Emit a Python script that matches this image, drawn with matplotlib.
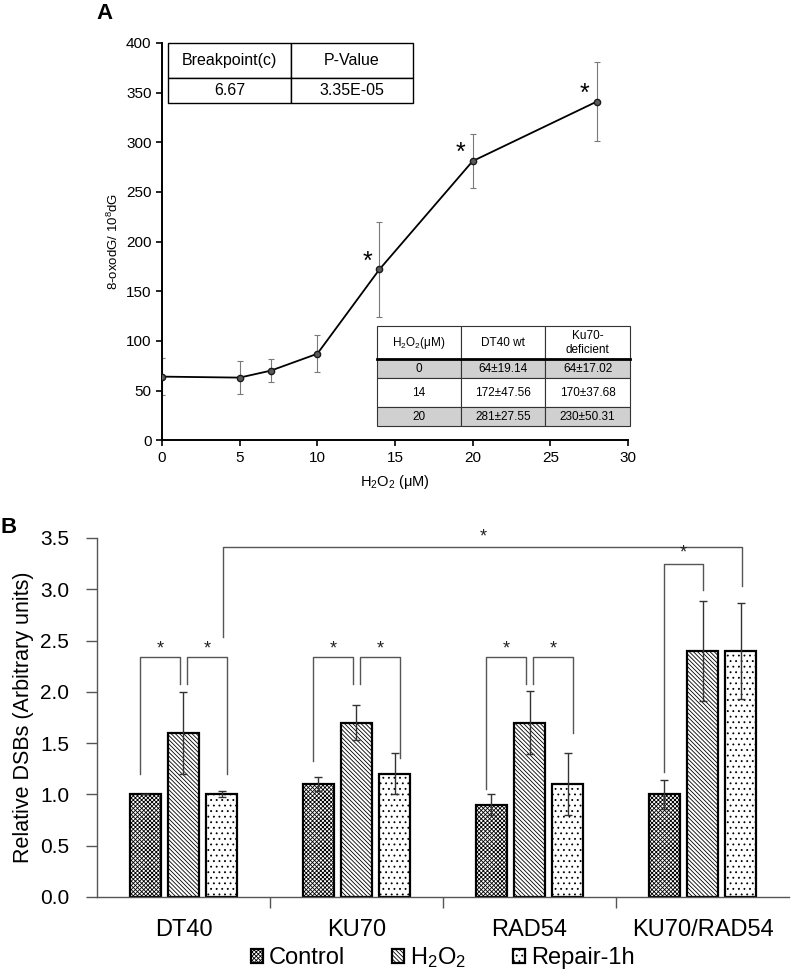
import numpy as np
import matplotlib
matplotlib.use('Agg')
import matplotlib.pyplot as plt
from matplotlib.lines import Line2D

plt.rcParams.update({
    'font.family': ['Liberation Sans', 'DejaVu Sans'],
    'mathtext.default': 'regular',
    'hatch.linewidth': 0.6,
})

# ── Panel A data ──────────────────────────────────────────────────────
doses = [0, 5, 7, 10, 14, 20, 28]
oxo = [64, 63, 70, 87, 172, 281, 341]
oxo_err = [19, 16.5, 11.5, 18.5, 47.5, 27.5, 40]
star_doses = [14, 20, 28]

breakpoint_c = '6.67'
p_value = '3.35E-05'

table_dose = [0, 14, 20]
dt40_mean = [64, 172, 281]
dt40_sd = [19.14, 47.56, 27.55]
ku70_mean = [64, 170, 230]
ku70_sd = [17.02, 37.68, 50.31]

# ── Panel B data ──────────────────────────────────────────────────────
groups = ['DT40', 'KU70', 'RAD54', 'KU70/RAD54']
control = [1.0, 1.1, 0.9, 1.0]
control_err = [0.0, 0.07, 0.1, 0.14]
h2o2 = [1.6, 1.7, 1.7, 2.4]
h2o2_err = [0.4, 0.17, 0.31, 0.49]
repair = [1.0, 1.2, 1.1, 2.4]
repair_err = [0.03, 0.2, 0.3, 0.47]
series_names = ['Control', 'H$_2$O$_2$', 'Repair-1h']

fig = plt.figure(figsize=(7.91, 9.76), dpi=100)

# ── Panel A ───────────────────────────────────────────────────────────
axA = fig.add_axes([0.2048, 0.549, 0.5891, 0.407])
axA.errorbar(doses, oxo, yerr=oxo_err, fmt='none', ecolor='#7a7a7a',
             elinewidth=0.8, capsize=2.5, capthick=0.8, zorder=2)
axA.plot(doses, oxo, color='black', lw=1.3, marker='o', ms=4.5,
         mfc='#5a5a5a', mec='#1a1a1a', mew=1, zorder=3)
for d in star_doses:
    i = doses.index(d)
    axA.text(d - 0.8, oxo[i] + 8, '*', fontsize=18, ha='center', va='center')

axA.set_xlim(0, 30)
axA.set_ylim(0, 400)
axA.set_xticks(range(0, 31, 5))
axA.set_yticks(range(0, 401, 50))
for s in ['top', 'right']:
    axA.spines[s].set_visible(False)
for s in ['left', 'bottom']:
    axA.spines[s].set_linewidth(1.4)
axA.tick_params(direction='out', length=4, width=1.2, labelsize=11)
axA.set_xlabel('H$_2$O$_2$ (μM)', fontsize=10.5, labelpad=6)
axA.set_ylabel('8-oxodG/ 10$^8$dG', fontsize=9.5)

# breakpoint table
t1 = axA.table(cellText=[['Breakpoint(c)', 'P-Value'], [breakpoint_c, p_value]],
               cellLoc='center', bbox=[0.013, 0.849, 0.526, 0.151])
t1.auto_set_font_size(False)
t1.set_fontsize(11.5)
for (r, c), cell in t1.get_celld().items():
    cell.set_height(35 if r == 0 else 25)
    cell.set_linewidth(1.0)

# inset table
rows = [['H$_2$O$_2$(μM)', 'DT40 wt', 'Ku70-\ndeficient']]
for d, m1, s1, m2, s2 in zip(table_dose, dt40_mean, dt40_sd, ku70_mean, ku70_sd):
    rows.append([str(d), f'{m1}±{s1:.2f}', f'{m2}±{s2:.2f}'])
row_h = [33, 19, 29, 19]
t2 = axA.table(cellText=rows, cellLoc='center', bbox=[0.461, 0.035, 0.543, 0.252])
t2.auto_set_font_size(False)
t2.set_fontsize(8.5)
for (r, c), cell in t2.get_celld().items():
    cell.set_height(row_h[r])
    cell.set_linewidth(0.8)
    cell.set_edgecolor('#333333')
    if r in (1, 3):
        cell.set_facecolor('#d0d0d0')
yline = 0.035 + 0.252 * (1 - row_h[0] / sum(row_h))
axA.add_line(Line2D([0.461, 1.004], [yline, yline], transform=axA.transAxes,
                    color='black', lw=2, clip_on=False, zorder=10))

fig.text(0.122, 0.997, 'A', fontsize=16, weight='bold', va='top')

# ── Panel B ───────────────────────────────────────────────────────────
axB = fig.add_axes([0.1226, 0.081, 0.8749, 0.3678])
x = np.arange(len(groups))
offsets = [-0.22, 0.0, 0.22]
width = 0.18
hatches = ['x' * 8, '\\' * 8, '...']
for off, vals, errs, name, h in zip(offsets, [control, h2o2, repair],
                                    [control_err, h2o2_err, repair_err],
                                    series_names, hatches):
    axB.bar(x + off, vals, width, yerr=errs, color='white', edgecolor='black',
            linewidth=1.6, hatch=h, label=name,
            error_kw=dict(ecolor='#333333', elinewidth=1, capsize=3, capthick=1))


def bracket(x1, x2, y1, ytop, y2, star_dy=0.08):
    axB.plot([x1, x1, x2, x2], [y1, ytop, ytop, y2], color='#555555', lw=1)
    axB.text((x1 + x2) / 2, ytop + star_dy, '*', ha='center', va='center',
             fontsize=13, color='#222222')


# (group, bar) -> x position of bar centre
def bx(g, b):
    return g + offsets[b]


for g, (yl, yr) in enumerate([(1.2, 1.2), (1.33, 1.35), (1.05, 1.6)]):
    bracket(bx(g, 0) - 0.03, bx(g, 1) - 0.02, yl, 2.34, 2.08)
    bracket(bx(g, 1) + 0.02, bx(g, 2) + 0.03, 2.08, 2.34, yr)
bracket(bx(3, 0), bx(3, 1), 1.22, 3.25, 2.99, star_dy=0.1)
bracket(bx(0, 2) + 0.01, bx(3, 2) + 0.01, 2.53, 3.41, 3.03, star_dy=0.1)

axB.set_xlim(-0.5, 3.5)
axB.set_ylim(0, 3.5)
axB.set_yticks(np.arange(0, 3.51, 0.5))
axB.set_yticklabels([f'{v:.1f}' for v in np.arange(0, 3.51, 0.5)])
axB.set_xticks(x)
axB.set_xticklabels(groups)
axB.set_xticks([0.5, 1.5, 2.5], minor=True)
axB.tick_params(axis='x', which='major', length=0, labelsize=17, pad=16)
axB.tick_params(axis='x', which='minor', length=8, width=1, color='#555555')
axB.tick_params(axis='y', length=8, width=1, color='#555555', labelsize=15,
                pad=12)
for s in ['top', 'right']:
    axB.spines[s].set_visible(False)
for s in ['left', 'bottom']:
    axB.spines[s].set_linewidth(1)
    axB.spines[s].set_color('#555555')
axB.set_ylabel('Relative DSBs (Arbitrary units)', fontsize=15.5, labelpad=4)
axB.legend(loc='upper center', bbox_to_anchor=(0.5, -0.095), ncol=3,
           frameon=False, fontsize=17, handlelength=0.5, handleheight=0.5,
           handletextpad=0.25, columnspacing=2.0, borderpad=0.1)

fig.text(0.0, 0.47, 'B', fontsize=16, weight='bold', va='top')

fig.savefig('out.png', dpi=100)
